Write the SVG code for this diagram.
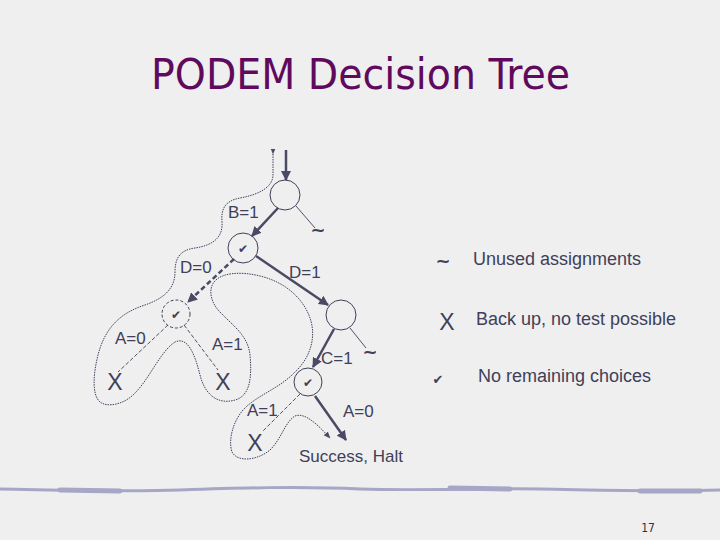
<svg xmlns="http://www.w3.org/2000/svg" width="720" height="540" viewBox="0 0 720 540">
<defs>
<marker id="ah" viewBox="0 0 10 10" refX="9" refY="5" markerWidth="4" markerHeight="4" orient="auto" markerUnits="strokeWidth">
<path d="M0,0 L10,5 L0,10 z" fill="#4a4a64"/>
</marker>
<marker id="ahs" viewBox="0 0 10 10" refX="9" refY="5" markerWidth="7" markerHeight="7" orient="auto" markerUnits="userSpaceOnUse">
<path d="M0,1 L10,5 L0,9 z" fill="#4a4a64"/>
</marker>
<marker id="ahstart" viewBox="0 0 10 10" refX="1" refY="5" markerWidth="6" markerHeight="6" orient="auto-start-reverse" markerUnits="userSpaceOnUse">
<path d="M0,5 L10,1 L10,9 z" fill="#4a4a64"/>
</marker>
</defs>
<style>
.bg{fill:#efeff0}
.title{font-family:"DejaVu Sans Condensed","DejaVu Sans","Liberation Sans",sans-serif;font-size:43px;fill:#600a5e}
.lbl{font-family:"Liberation Sans",Arial,sans-serif;font-size:17px;fill:#404058}
.x{font-family:"Liberation Sans",Arial,sans-serif;font-size:23px;fill:#404058;text-anchor:middle}
.tl{font-family:"DejaVu Sans",sans-serif;font-size:18px;fill:#404058;text-anchor:middle;font-weight:bold}
.ck{font-family:"DejaVu Sans",sans-serif;font-size:12px;fill:#404058;text-anchor:middle}
.node{fill:none;stroke:#404058;stroke-width:1}
.dnode{fill:none;stroke:#404058;stroke-width:1;stroke-dasharray:3,2}
.thick{fill:none;stroke:#4a4a64;stroke-width:2.5;marker-end:url(#ah)}
.thickd{fill:none;stroke:#4a4a64;stroke-width:2.5;stroke-dasharray:5,3;marker-end:url(#ah)}
.thin{fill:none;stroke:#404058;stroke-width:0.9}
.thind{fill:none;stroke:#404058;stroke-width:0.9;stroke-dasharray:4,2}
.contour{fill:none;stroke:#404058;stroke-width:1;stroke-dasharray:1.5,1}
.leg{font-family:"Liberation Sans",Arial,sans-serif;font-size:18px;fill:#404058}
</style>
<rect class="bg" x="0" y="0" width="720" height="540"/>
<text class="title" x="151" y="89" textLength="419" lengthAdjust="spacingAndGlyphs">PODEM Decision Tree</text>

<g id="connectors">
<line class="thick" x1="286" y1="150" x2="286" y2="180"/>
<line class="thick" x1="278" y1="208" x2="252" y2="236"/>
<line class="thin" x1="296" y1="206" x2="315" y2="228"/>
<line class="thickd" x1="234" y1="259" x2="188" y2="302"/>
<line class="thick" x1="256" y1="256" x2="328" y2="305"/>
<line class="thind" x1="168" y1="325" x2="118" y2="372"/>
<line class="thind" x1="184" y1="325" x2="218" y2="370"/>
<line class="thick" x1="334" y1="329" x2="313" y2="367"/>
<line class="thin" x1="350" y1="328" x2="366" y2="348"/>
<line class="thind" x1="300" y1="394" x2="262" y2="432"/>
<line class="thick" x1="315" y1="396" x2="346" y2="440"/>
<path class="contour" marker-start="url(#ahstart)" marker-end="url(#ahs)" d="M273,154 L273,176 C272,186 262,194 240,198 C224,201 221,210 222,222 C223,236 215,245 195,248 C180,250 175,258 175,272 C175,288 165,298 145,305 C120,313 105,328 98,355 C93,375 92,395 100,402 C108,408 125,404 135,393 C150,378 160,352 175,342 C188,336 195,355 200,375 C205,395 218,405 235,400 C250,396 252,378 250,355 C248,335 232,325 220,312 C210,302 208,288 215,281 C222,273 240,271 260,276 C285,282 303,298 310,318 C316,335 312,356 295,372 C280,388 258,395 245,408 C233,420 228,440 232,452 C238,463 258,460 270,450 C282,438 285,422 295,416 C305,412 318,425 330,438"/>
</g>

<g id="root"><circle class="node" cx="285" cy="195" r="15"/></g>
<g id="nodeD"><circle class="node" cx="243" cy="248" r="15"/><text class="ck" x="243" y="253">✔</text></g>
<g id="nodeA"><circle class="dnode" cx="176" cy="314" r="14"/><text class="ck" x="176" y="319">✔</text></g>
<g id="nodeC"><circle class="node" cx="341" cy="315" r="15"/></g>
<g id="nodeA2"><circle class="node" cx="308" cy="382" r="14"/><text class="ck" x="308" y="387">✔</text></g>

<g id="labels">
<text class="lbl" x="228" y="218">B=1</text>
<text class="tl" x="318" y="236">~</text>
<text class="lbl" x="180" y="273">D=0</text>
<text class="lbl" x="289" y="278">D=1</text>
<text class="lbl" x="115" y="344">A=0</text>
<text class="lbl" x="212" y="350">A=1</text>
<text class="lbl" x="321" y="364">C=1</text>
<text class="tl" x="370" y="358">~</text>
<text class="lbl" x="247" y="416">A=1</text>
<text class="lbl" x="343" y="417">A=0</text>
<text class="lbl" x="299" y="462">Success, Halt</text>
</g>
<g id="x1"><text class="x" x="115" y="390">X</text></g>
<g id="x2"><text class="x" x="223" y="390">X</text></g>
<g id="x3"><text class="x" x="255" y="451">X</text></g>

<g id="legend">
<text class="tl" x="443" y="267">~</text>
<text class="leg" x="473" y="265">Unused assignments</text>
<text class="x" x="447" y="330">X</text>
<text class="leg" x="476" y="325">Back up, no test possible</text>
<text class="ck" x="438" y="384" style="font-size:13px">✔</text>
<text class="leg" x="478" y="382">No remaining choices</text>
</g>

<path d="M0,489 C60,490 120,492 180,490 C240,488 300,486 360,489 C420,491 480,488 540,489 C600,490 660,492 720,490" fill="none" stroke="#a6a6c6" stroke-width="3"/>
<path d="M60,490 L120,491 M450,488 L510,489 M640,491 L700,491" fill="none" stroke="#a6a6c6" stroke-width="5" stroke-linecap="round"/>
<text x="648" y="532" style="font-family:'DejaVu Sans Condensed','DejaVu Sans',sans-serif;font-size:12px;fill:#333;text-anchor:middle">17</text>
</svg>
